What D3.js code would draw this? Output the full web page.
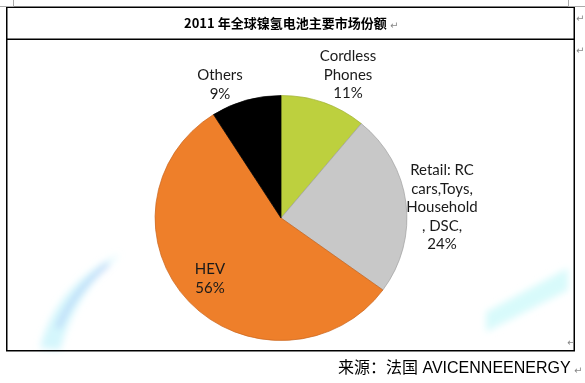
<!DOCTYPE html>
<html><head><meta charset="utf-8">
<script src="https://cdn.jsdelivr.net/npm/d3@7"></script>
<style>
html,body{margin:0;padding:0;background:#fff;}
svg{display:block;}
</style></head>
<body>
<script>
const title = "2011 年全球镍氢电池主要市场份额";
const source = "来源：法国 AVICENNEENERGY";
const categories = ["Cordless Phones", "Retail: RC cars,Toys, Household , DSC,", "HEV", "Others"];
const values = [11, 24, 56, 9];
const colors = ["#BDD03E", "#C8C8C8", "#EE7F2A", "#000000"];
const strokes = ["#9fb030", "#a0a0a0", "#c9651c", "#000000"];
const labelLines = [["Cordless","Phones","11%"],["Retail: RC","cars,Toys,","Household",", DSC,","24%"],["HEV","56%"],["Others","9%"]];

const W = 585, H = 383;
const svg = d3.select("body").append("svg").attr("width", W).attr("height", H);
const defs = svg.append("defs");
defs.append("filter").attr("id","blur").attr("x","-50%").attr("y","-50%").attr("width","200%").attr("height","200%")
  .append("feGaussianBlur").attr("stdDeviation", 3.5);

// decorative swooshes
const deco = svg.append("g").attr("filter","url(#blur)");
deco.append("path").attr("d","M40,348 Q56,285 120,254 Q74,294 60,350 Z").attr("fill","#cdf4fb").attr("opacity",0.85);
deco.append("path").attr("d","M58,328 Q74,290 108,264").attr("fill","none").attr("stroke","#b2cdf6").attr("stroke-width",4).attr("opacity",0.9);
deco.append("path").attr("d","M486,312 L568,268 L568,290 L486,332 Z").attr("fill","#d8fafb");

// table frame
const frame = svg.append("g").attr("stroke","#000").attr("stroke-width",1.5).attr("fill","none");
frame.append("rect").attr("x",6.75).attr("y",7.25).attr("width",567.5).attr("height",343.5);
frame.append("line").attr("x1",6.75).attr("x2",574.25).attr("y1",39.25).attr("y2",39.25);

// corner marks
const cm = svg.append("g").attr("stroke","#aaa").attr("stroke-width",1).attr("fill","none");
cm.append("path").attr("d","M0,6.5 H13.5 V0");
cm.append("path").attr("d","M568.5,0 V6.5 H585");

// title
svg.append("text").attr("x", 184).attr("y", 28)
  .attr("font-family","'Noto Sans CJK SC', 'Liberation Sans', sans-serif").attr("font-weight","bold")
  .attr("font-size",13).attr("fill","#000").text(title);

// return marks
const rm = [[390,29],[576,22],[576,54],[567,346],[574,374]];
svg.selectAll("text.rm").data(rm).enter().append("text").attr("class","rm")
  .attr("x",d=>d[0]).attr("y",d=>d[1]).attr("font-family","DejaVu Sans").attr("font-size",10)
  .attr("fill","#888").text("↵");

// pie
const cx = 281, cy = 218, r = 122.5;
const pie = d3.pie().sort(null).value(d=>d)(values);
const arc = d3.arc().innerRadius(0).outerRadius(r);
const g = svg.append("g").attr("transform",`translate(${cx},${cy}) scale(1.028,1)`);
g.selectAll("path").data(pie).enter().append("path")
  .attr("d",arc).attr("fill",(d,i)=>colors[i]).attr("stroke",(d,i)=>strokes[i]).attr("stroke-width",0.7);

// labels
const labelPos = [[348,56],[442,170],[210,269],[220,75]];
const lineH = 18.5;
const lg = svg.append("g").attr("font-family","Lato, 'Open Sans', sans-serif").attr("font-size",15).attr("fill","#1a1a1a").attr("text-anchor","middle");
labelLines.forEach((lines,i)=>{
  const t = lg.append("text").attr("x",labelPos[i][0]).attr("y",labelPos[i][1]+5);
  lines.forEach((s,j)=>t.append("tspan").attr("x",labelPos[i][0]).attr("dy", j===0?0:lineH).text(s));
});

// source
svg.append("text").attr("x",338).attr("y",373)
  .attr("font-family","'Liberation Sans', 'Noto Sans CJK SC', sans-serif").attr("font-size",16).attr("fill","#000")
  .text(source);
</script>
</body></html>
